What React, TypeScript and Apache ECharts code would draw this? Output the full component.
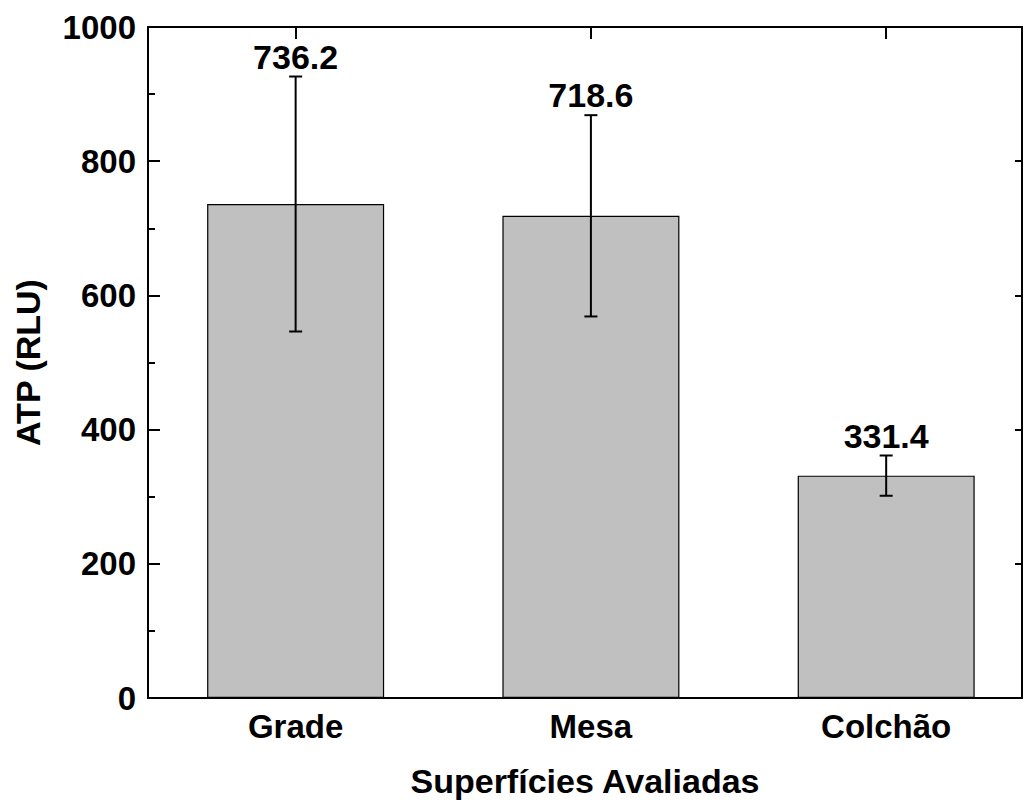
import React, { useEffect, useRef } from "react";
import * as echarts from "echarts";

const categories = ["Grade", "Mesa", "Colchão"];
const positions = [0, 1, 2];
const means = [736.2, 718.6, 331.4];
const errors = [190, 150, 30];
const yTicks = [0, 200, 400, 600, 800, 1000];

const FONT = "'Liberation Sans', Arial, Helvetica, sans-serif";

export default function App() {
  const ref = useRef<HTMLDivElement>(null);
  useEffect(() => {
    if (!ref.current) return;
    const chart = echarts.init(ref.current, null, { renderer: "svg" });
    const barData = positions.map((p, i) => [p, means[i]]);
    const errData = positions.map((p, i) => [p, means[i] + errors[i], means[i] - errors[i], means[i].toFixed(1)]);
    const axisLine = { show: true, onZero: false, lineStyle: { color: "#000", width: 2 } };
    chart.setOption({
      animation: false,
      backgroundColor: "#fff",
      grid: { left: 148, right: 3, top: 27, bottom: 107, containLabel: false },
      xAxis: [
        {
          type: "value",
          min: -0.5,
          max: 2.46,
          position: "bottom",
          axisLine,
          axisTick: { show: true, customValues: positions, inside: true, length: 12, lineStyle: { color: "#000", width: 2 } },
          axisLabel: {
            show: true,
            customValues: positions,
            formatter: (v: number) => categories[Math.round(v)] ?? "",
            fontFamily: FONT,
            fontSize: 33,
            fontWeight: "bold",
            color: "#000",
            margin: 12,
          },
          splitLine: { show: false },
          name: "Superfícies Avaliadas",
          nameLocation: "middle",
          nameGap: 66,
          nameTextStyle: { fontFamily: FONT, fontSize: 34, fontWeight: "bold", color: "#000" },
        },
        {
          type: "value",
          min: -0.5,
          max: 2.46,
          position: "top",
          axisLine,
          axisTick: { show: true, customValues: positions, inside: true, length: 12, lineStyle: { color: "#000", width: 2 } },
          axisLabel: { show: false },
          splitLine: { show: false },
        },
      ],
      yAxis: [
        {
          type: "value",
          min: 0,
          max: 1000,
          interval: 200,
          position: "left",
          axisLine,
          axisTick: { show: true, inside: true, length: 12, lineStyle: { color: "#000", width: 2 } },
          minorTick: { show: true, splitNumber: 2, length: 7, lineStyle: { color: "#000", width: 2 } },
          axisLabel: {
            fontFamily: FONT,
            fontSize: 33,
            fontWeight: "bold",
            color: "#000",
            margin: 12,
            formatter: (v: number) => (yTicks.includes(v) ? String(v) : ""),
          },
          splitLine: { show: false },
          name: "ATP (RLU)",
          nameLocation: "middle",
          nameGap: 103,
          nameTextStyle: { fontFamily: FONT, fontSize: 34, fontWeight: "bold", color: "#000" },
        },
        {
          type: "value",
          min: 0,
          max: 1000,
          interval: 200,
          position: "right",
          axisLine,
          axisTick: { show: true, inside: true, length: 7, lineStyle: { color: "#000", width: 2 } },
          axisLabel: { show: false },
          splitLine: { show: false },
        },
      ],
      series: [
        {
          type: "bar",
          xAxisIndex: 0,
          yAxisIndex: 0,
          data: barData,
          barWidth: 177,
          itemStyle: { color: "#c0c0c0", borderColor: "#000", borderWidth: 1.2 },
        },
        {
          type: "custom",
          xAxisIndex: 0,
          yAxisIndex: 0,
          data: errData,
          clip: false,
          z: 5,
          renderItem: (params: any, api: any) => {
            const x = api.value(0);
            const hi = api.value(1);
            const lo = api.value(2);
            const label = errData[params.dataIndex][3] as string;
            const pHi = api.coord([x, hi]);
            const pLo = api.coord([x, lo]);
            const cap = 6.5;
            const ls = { stroke: "#000", lineWidth: 2 };
            return {
              type: "group",
              children: [
                { type: "line", shape: { x1: pHi[0], y1: pHi[1], x2: pLo[0], y2: pLo[1] }, style: ls },
                { type: "line", shape: { x1: pHi[0] - cap, y1: pHi[1], x2: pHi[0] + cap, y2: pHi[1] }, style: ls },
                { type: "line", shape: { x1: pLo[0] - cap, y1: pLo[1], x2: pLo[0] + cap, y2: pLo[1] }, style: ls },
                {
                  type: "text",
                  x: pHi[0],
                  y: pHi[1] - 3,
                  style: {
                    text: label,
                    align: "center",
                    verticalAlign: "bottom",
                    fontFamily: FONT,
                    fontSize: 34,
                    fontWeight: "bold",
                    fill: "#000",
                  },
                },
              ],
            };
          },
        },
      ],
    });
    return () => chart.dispose();
  }, []);
  return (
    <div
      ref={ref}
      style={{ position: "fixed", left: 0, top: 0, width: 1025, height: 805, background: "#fff" }}
    />
  );
}
